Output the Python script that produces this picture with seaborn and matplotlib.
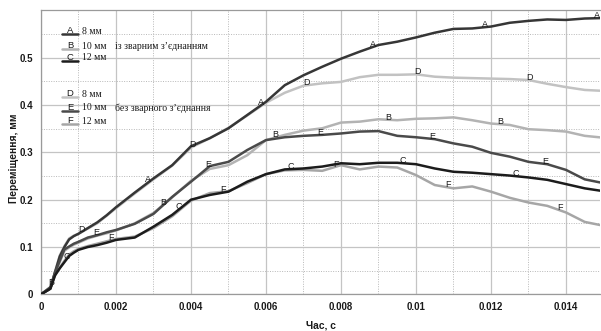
import numpy as np
import pandas as pd
import seaborn as sns
import matplotlib
matplotlib.use("Agg")
import matplotlib.pyplot as plt
from matplotlib.ticker import MultipleLocator, FuncFormatter

# Time points, s
t = [0, 0.00025, 0.000375, 0.0005, 0.000625, 0.00075, 0.000875, 0.001, 0.00125,
     0.0015, 0.00175, 0.002, 0.0025, 0.003, 0.0035,
     0.004, 0.0045, 0.005, 0.0055, 0.006, 0.0065, 0.007, 0.0075, 0.008, 0.0085,
     0.009, 0.0095, 0.010, 0.0105, 0.011, 0.0115, 0.012, 0.0125, 0.013, 0.0135,
     0.014, 0.0145, 0.015]

# Displacement, mm — with welded joint
disp_A = [0, 0.012, 0.047, 0.080, 0.100, 0.116, 0.123, 0.128, 0.140,
          0.152, 0.167, 0.184, 0.215, 0.245, 0.273,
          0.313, 0.330, 0.351, 0.379, 0.407, 0.442, 0.463, 0.481, 0.498, 0.513,
          0.527, 0.534, 0.543, 0.553, 0.561, 0.562, 0.566, 0.574, 0.578, 0.581,
          0.580, 0.583, 0.584]
disp_B = [0, 0.015, 0.045, 0.068, 0.092, 0.099, 0.105, 0.109, 0.118,
          0.124, 0.129, 0.135, 0.150, 0.172, 0.205,
          0.240, 0.265, 0.273, 0.294, 0.326, 0.337, 0.346, 0.351, 0.363, 0.365,
          0.370, 0.368, 0.371, 0.372, 0.374, 0.368, 0.361, 0.358, 0.349, 0.347,
          0.344, 0.335, 0.331]
disp_C = [0, 0.012, 0.040, 0.055, 0.068, 0.081, 0.088, 0.094, 0.100,
          0.104, 0.109, 0.115, 0.120, 0.143, 0.168,
          0.200, 0.210, 0.217, 0.238, 0.254, 0.264, 0.266, 0.270, 0.277, 0.275,
          0.278, 0.278, 0.275, 0.266, 0.259, 0.257, 0.254, 0.251, 0.247, 0.242,
          0.233, 0.224, 0.218]
# Displacement, mm — without welded joint
disp_D = [0, 0.012, 0.048, 0.082, 0.102, 0.118, 0.124, 0.128, 0.139,
          0.150, 0.166, 0.182, 0.213, 0.243, 0.272,
          0.310, 0.330, 0.352, 0.378, 0.405, 0.426, 0.441, 0.446, 0.449, 0.459,
          0.464, 0.464, 0.465, 0.460, 0.458, 0.457, 0.456, 0.455, 0.453, 0.445,
          0.438, 0.432, 0.430]
disp_E = [0, 0.015, 0.046, 0.071, 0.095, 0.101, 0.107, 0.111, 0.120,
          0.125, 0.131, 0.136, 0.149, 0.170, 0.206,
          0.238, 0.271, 0.280, 0.305, 0.326, 0.332, 0.335, 0.337, 0.340, 0.344,
          0.345, 0.335, 0.332, 0.328, 0.319, 0.312, 0.299, 0.291, 0.280, 0.275,
          0.263, 0.243, 0.235]
disp_F = [0, 0.012, 0.041, 0.056, 0.071, 0.084, 0.091, 0.096, 0.102,
          0.107, 0.112, 0.117, 0.122, 0.140, 0.165,
          0.198, 0.214, 0.218, 0.235, 0.254, 0.262, 0.263, 0.261, 0.273, 0.264,
          0.270, 0.268, 0.252, 0.231, 0.224, 0.228, 0.217, 0.204, 0.194, 0.187,
          0.173, 0.153, 0.145]

series = ["A", "B", "C", "D", "E", "F"]
sizes = ["8 мм", "10 мм", "12 мм", "8 мм", "10 мм", "12 мм"]
values = dict(A=disp_A, B=disp_B, C=disp_C, D=disp_D, E=disp_E, F=disp_F)

# Times at which each curve carries its letter tag
tag_times = {
    "A": [0.00286, 0.00586, 0.00885, 0.01184, 0.01483],
    "B": [0.00027, 0.00325, 0.00626, 0.00925, 0.01224],
    "C": [0.00068, 0.00368, 0.00666, 0.00964, 0.01266],
    "D": [0.00108, 0.00405, 0.00707, 0.01005, 0.01304],
    "E": [0.00147, 0.00446, 0.00746, 0.01044, 0.01344],
    "F": [0.00187, 0.00486, 0.00787, 0.01086, 0.01384],
}

colors = {"A": "#363636", "B": "#b3b3b3", "C": "#1c1c1c",
          "D": "#c2c2c2", "E": "#4a4a4a", "F": "#a6a6a6"}

df = pd.concat([pd.DataFrame({"t": t, "u": values[s], "s": s}) for s in series],
               ignore_index=True)

sns.set_style("white")
plt.rcParams["font.family"] = ["Liberation Sans Narrow", "Liberation Sans", "DejaVu Sans"]

fig = plt.figure(figsize=(6.01, 3.31), dpi=100)
ax = fig.add_axes([41 / 601, (331 - 294.3) / 331, 559 / 601, 284.3 / 331])

# light curves first so the dark ones sit on top
order = ["D", "B", "F", "A", "E", "C"]
for s in order:
    sub = df[df["s"] == s]
    sns.lineplot(data=sub, x="t", y="u", ax=ax, color=colors[s], lw=1.8,
                 estimator=None, sort=False, legend=False, zorder=3)

sans = ["Liberation Sans", "DejaVu Sans"]
for s in series:
    tt = np.array(tag_times[s])
    yy = np.interp(tt, t, values[s])
    for xv, yv in zip(tt, yy):
        ax.text(xv, yv - 0.004, s, fontsize=6.5, ha="center", va="bottom",
                color="#1a1a1a", zorder=5, family=sans)

ax.set_xlim(0, 0.014907)
ax.set_ylim(0, 0.601)
ax.xaxis.set_major_locator(MultipleLocator(0.002))
ax.xaxis.set_minor_locator(MultipleLocator(0.001))
ax.set_yticks([0, 0.1, 0.2, 0.3, 0.4, 0.5])
ax.yaxis.set_minor_locator(MultipleLocator(0.05))
fmt = FuncFormatter(lambda v, p: f"{v:g}")
ax.xaxis.set_major_formatter(fmt)
ax.yaxis.set_major_formatter(fmt)

ax.grid(which="major", color="#c4c4c4", lw=0.9, ls="-")
ax.grid(which="minor", color="#b8b8b8", lw=0.7, ls=(0, (1, 1.5)))
ax.set_axisbelow(True)

for sp in ["left", "bottom", "top"]:
    ax.spines[sp].set_color("#9a9a9a")
    ax.spines[sp].set_linewidth(0.9)
ax.spines["right"].set_visible(False)

ax.tick_params(which="major", direction="out", length=4, width=0.8, color="#9a9a9a",
               labelsize=7.0, labelcolor="#1a1a1a", pad=1.5)
ax.tick_params(which="minor", length=0)
for lab in ax.get_xticklabels() + ax.get_yticklabels():
    lab.set_fontweight("bold")

ax.set_xlabel("Час, с", fontsize=7.4, fontweight="bold", color="#1a1a1a", labelpad=6)
ax.set_ylabel("Переміщення, мм", fontsize=7.4, fontweight="bold", color="#1a1a1a")
ax.yaxis.label.set_va("center")
ax.yaxis.set_label_coords(-27 / 559, (294.3 - 158) / 284.3)

# Legend drawn as line samples with letters and serif captions
def px2data(px, py):
    return ax.transData.inverted().transform(
        fig.transFigure.transform((px / 601, 1 - py / 331)))

legend_rows = [("A", 34.3), ("B", 49.3), ("C", 61.0), ("D", 97.3), ("E", 111.0), ("F", 124.3)]
serif = ["Liberation Serif", "DejaVu Serif"]
for (s, py), size in zip(legend_rows, sizes):
    x0, y0 = px2data(61.7, py)
    x1, _ = px2data(78.3, py)
    ax.plot([x0, x1], [y0, y0], color=colors[s], lw=1.8, zorder=4)
    xl, yl = px2data(70, py)
    ax.text(xl, yl - 0.002, s, fontsize=6.8, ha="center", va="bottom", color="#1a1a1a",
            zorder=5, family=sans)
    xs, ys = px2data(81.7, py - 3.0)
    ax.text(xs, ys, size, fontsize=7.0, ha="left", va="center", color="#1a1a1a",
            family=serif, zorder=5)

xg, yg = px2data(115, 46.3)
ax.text(xg, yg, "із зварним з’єднанням", fontsize=7.0, ha="left", va="center",
        color="#1a1a1a", family=serif, zorder=5)
xg, yg = px2data(115, 108.0)
ax.text(xg, yg, "без зварного з’єднання", fontsize=7.0, ha="left", va="center",
        color="#1a1a1a", family=serif, zorder=5)

fig.savefig("out.png", dpi=100)
